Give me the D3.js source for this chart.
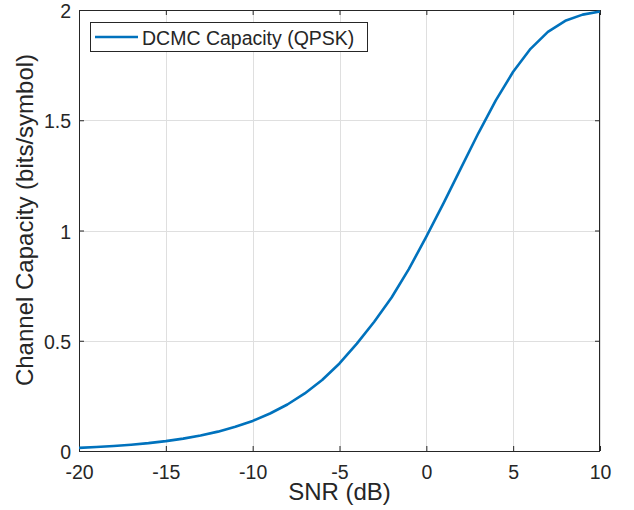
<!DOCTYPE html>
<html>
<head>
<meta charset="utf-8">
<script src="https://cdn.jsdelivr.net/npm/d3@7"></script>
<style>
  html, body { margin: 0; padding: 0; background: #ffffff; }
  svg { display: block; }
  text { font-family: Arial, "Liberation Sans", Helvetica, sans-serif; fill: #262626; }
</style>
</head>
<body>
<script>
// ---- data ----
const snrDb = [-20,-19,-18,-17,-16,-15,-14,-13,-12,-11,-10,-9,-8,-7,-6,-5,-4,-3,-2,-1,0,1,2,3,4,5,6,7,8,9,10];
const capacity = [0.0143,0.0180,0.0226,0.0284,0.0357,0.0448,0.0561,0.0702,0.0878,0.1096,0.1365,0.170,0.211,0.261,0.322,0.397,0.487,0.586,0.696,0.826,0.972,1.125,1.284,1.442,1.590,1.720,1.824,1.901,1.951,1.979,1.993];
const xTicks = [-20,-15,-10,-5,0,5,10];
const xTickLabels = ["-20","-15","-10","-5","0","5","10"];
const yTicks = [0,0.5,1,1.5,2];
const yTickLabels = ["0","0.5","1","1.5","2"];
const seriesName = "DCMC Capacity (QPSK)";
const xLabel = "SNR (dB)";
const yLabel = "Channel Capacity (bits/symbol)";

// ---- layout ----
const W = 634, H = 510;
const L = 79, R = 600, T = 10, B = 451;
const axisColor = "#262626";
const lineColor = "#0072BD";

const svg = d3.select("body").append("svg").attr("width", W).attr("height", H);
svg.append("rect").attr("width", W).attr("height", H).attr("fill", "#fff");

const x = d3.scaleLinear().domain([-20, 10]).range([L, R]);
const y = d3.scaleLinear().domain([0, 2]).range([B, T]);

// grid
const grid = svg.append("g").attr("stroke", "#dfdfdf").attr("stroke-width", 1);
xTicks.forEach(t => {
  grid.append("line").attr("x1", Math.round(x(t)) + 0.5).attr("x2", Math.round(x(t)) + 0.5)
    .attr("y1", T).attr("y2", B);
});
yTicks.forEach(t => {
  grid.append("line").attr("y1", Math.round(y(t)) + 0.5).attr("y2", Math.round(y(t)) + 0.5)
    .attr("x1", L).attr("x2", R);
});

// axes using d3 axes (inward ticks)
const fs = 19.5;
const xAxisB = d3.axisBottom(x).tickValues(xTicks).tickSize(-5).tickPadding(0).tickFormat((d, i) => xTickLabels[i]);
const xAxisT = d3.axisTop(x).tickValues(xTicks).tickSize(-5).tickFormat("");
const yAxisL = d3.axisLeft(y).tickValues(yTicks).tickSize(-5).tickFormat((d, i) => yTickLabels[i]);
const yAxisR = d3.axisRight(y).tickValues(yTicks).tickSize(-5).tickFormat("");

function styleAxis(g) {
  g.select(".domain").remove();
  g.selectAll(".tick line").attr("stroke", axisColor).attr("stroke-width", 1);
  g.selectAll("text").attr("fill", axisColor).style("font-size", fs + "px");
}

const gxb = svg.append("g").attr("transform", `translate(0,${B})`).call(xAxisB).call(styleAxis);
gxb.selectAll("text").attr("dy", null).attr("y", 28);
const gxt = svg.append("g").attr("transform", `translate(0,${T})`).call(xAxisT).call(styleAxis);
const gyl = svg.append("g").attr("transform", `translate(${L},0)`).call(yAxisL).call(styleAxis);
gyl.selectAll("text").attr("dy", null).attr("x", -8).attr("y", 7.5);
const gyr = svg.append("g").attr("transform", `translate(${R},0)`).call(yAxisR).call(styleAxis);

// box
svg.append("rect").attr("x", L + 0.5).attr("y", T + 0.5).attr("width", R - L - 1).attr("height", B - T)
  .attr("fill", "none").attr("stroke", axisColor).attr("stroke-width", 1);

// curve
const line = d3.line().x((d, i) => x(snrDb[i])).y(d => y(d));
svg.append("path").datum(capacity).attr("d", line)
  .attr("fill", "none").attr("stroke", lineColor).attr("stroke-width", 2.6)
  .attr("stroke-linejoin", "round").attr("stroke-linecap", "butt");

// labels
svg.append("text").attr("x", (L + R) / 2).attr("y", 500).attr("text-anchor", "middle")
  .style("font-size", "24px").text(xLabel);
svg.append("text").attr("transform", `translate(33,220) rotate(-90)`).attr("text-anchor", "middle")
  .style("font-size", "24px").text(yLabel);

// legend
const lg = svg.append("g");
lg.append("rect").attr("x", 90.5).attr("y", 22.5).attr("width", 277).attr("height", 29)
  .attr("fill", "#fff").attr("stroke", axisColor).attr("stroke-width", 1);
lg.append("line").attr("x1", 95).attr("x2", 138).attr("y1", 37).attr("y2", 37)
  .attr("stroke", lineColor).attr("stroke-width", 2.6);
lg.append("text").attr("x", 142).attr("y", 44.5).style("font-size", fs + "px").attr("fill", "#000").text(seriesName);
</script>
</body>
</html>
